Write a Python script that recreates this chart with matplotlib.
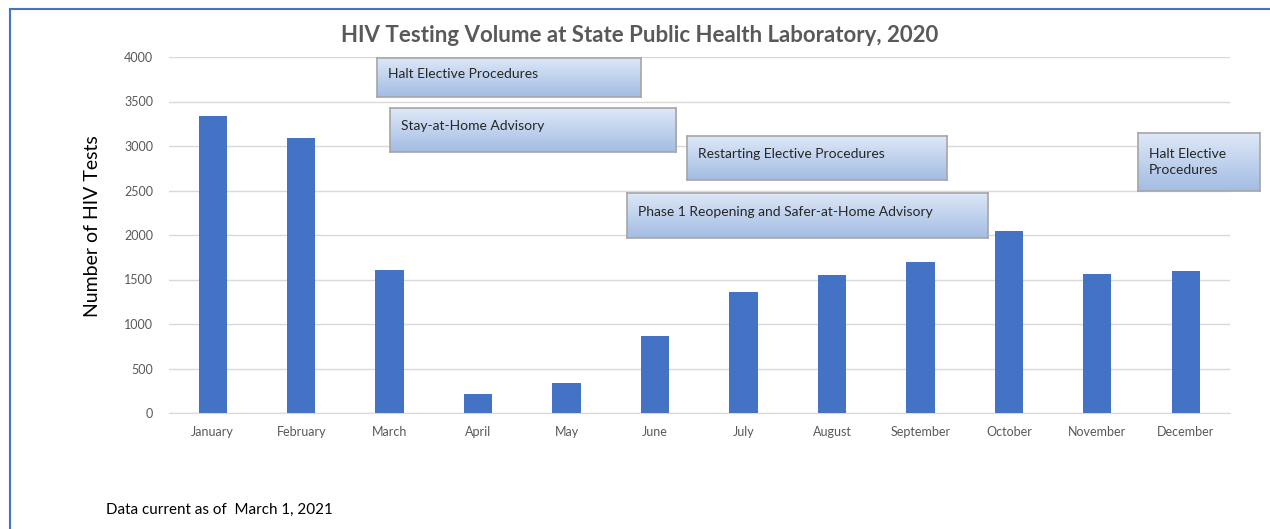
import matplotlib.pyplot as plt
import numpy as np

plt.rcParams['font.family'] = ['Lato', 'DejaVu Sans']

months = ["January", "February", "March", "April", "May", "June", "July",
          "August", "September", "October", "November", "December"]
tests = [3340, 3090, 1610, 210, 340, 865, 1360, 1545, 1700, 2045, 1565, 1595]
yticks = [0, 500, 1000, 1500, 2000, 2500, 3000, 3500, 4000]

# event callouts: text, box in pixels (left, top, right, bottom)
events = ["Halt Elective Procedures",
          "Stay-at-Home Advisory",
          "Restarting Elective Procedures",
          "Phase 1 Reopening and Safer-at-Home Advisory",
          "Halt Elective\nProcedures"]
event_boxes = [(377, 58, 641, 97),
               (390, 108, 676, 152),
               (687, 136, 947, 180),
               (627, 193, 988, 238),
               (1138, 133, 1260, 191)]

W, H = 1270, 529
fig = plt.figure(figsize=(W / 100, H / 100), dpi=100)


def px(l, t, r, b):
    return [l / W, 1 - b / H, (r - l) / W, (b - t) / H]


# outer frame of the chart object
fig.add_artist(plt.Line2D([9.5 / W, 9.5 / W], [0, 1 - 8.5 / H], color="#4472C4", lw=1.5))
fig.add_artist(plt.Line2D([9.5 / W, 1], [1 - 8.5 / H, 1 - 8.5 / H], color="#4472C4", lw=1.5))

ax = fig.add_axes(px(168.5, 57, 1230, 413))
x = np.arange(len(months))
ax.bar(x, tests, width=0.32, color="#4472C4", zorder=3)
ax.set_xlim(-0.5, len(months) - 0.5)
ax.set_ylim(0, 4000)
ax.set_yticks(yticks)
ax.set_xticks(x)
ax.set_xticklabels(months)
ax.grid(axis="y", color="#D9D9D9", lw=1, zorder=0)
for s in ["top", "right", "left"]:
    ax.spines[s].set_visible(False)
ax.spines["bottom"].set_color("#D9D9D9")
ax.tick_params(length=0, labelsize=9, labelcolor="#595959")
ax.tick_params(axis="y", pad=11)
ax.tick_params(axis="x", pad=9)
ax.set_ylabel("Number of HIV Tests", fontsize=14)
ax.yaxis.set_label_coords(-0.0636, 0.525)

fig.text(640 / W, 1 - 36 / H, "HIV Testing Volume at State Public Health Laboratory, 2020",
         ha="center", va="center", fontsize=16, fontweight="bold", color="#595959")
fig.text(106 / W, 1 - 510 / H, "Data current as of  March 1, 2021",
         ha="left", va="center", fontsize=10.9, color="black")

# gradient callout boxes
grad = np.linspace(0, 1, 64).reshape(-1, 1)
top = np.array([0.87, 0.91, 0.97])
bot = np.array([0.64, 0.74, 0.89])
img = top + (bot - top) * grad[..., None]
img = img.reshape(64, 1, 3)
for label, (l, t, r, b) in zip(events, event_boxes):
    bax = fig.add_axes(px(l, t, r, b))
    bax.imshow(img, aspect="auto", extent=[0, 1, 0, 1])
    bax.set_xticks([])
    bax.set_yticks([])
    for s in bax.spines.values():
        s.set_color("#A6A6A6")
        s.set_linewidth(1.2)
    lines = label.count("\n") + 1
    ty = 0.58 if lines == 1 else 0.5
    bax.text(11 / (r - l), ty, label, transform=bax.transAxes, ha="left", va="center",
             fontsize=10, color="#262626", linespacing=1.5)

fig.savefig("out.png", dpi=100)
